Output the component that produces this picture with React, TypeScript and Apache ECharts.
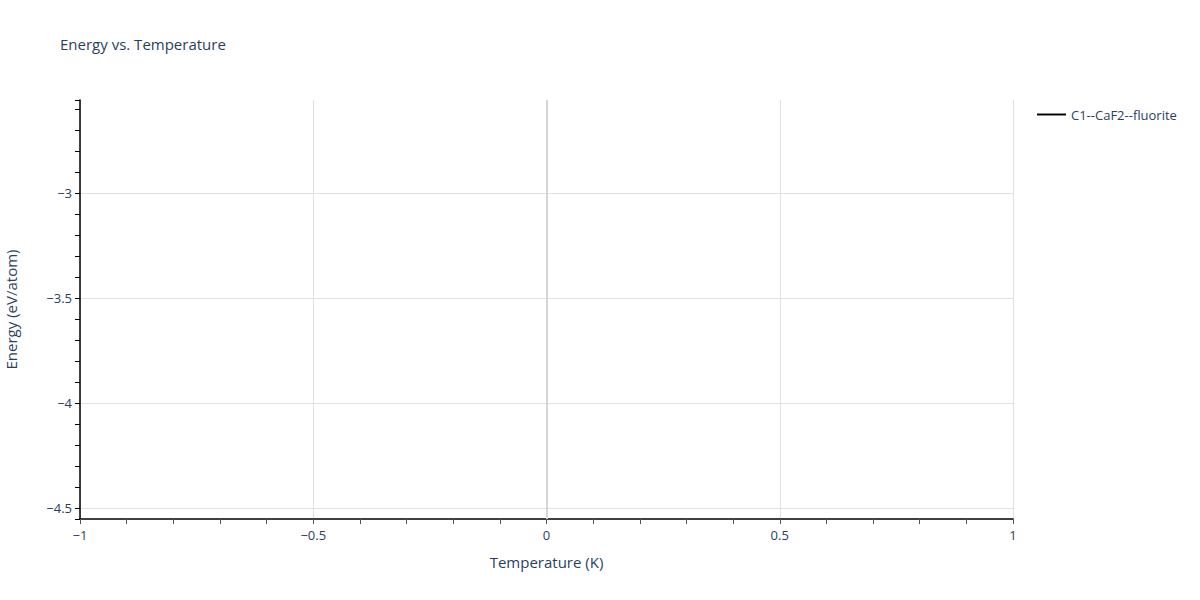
import { useEffect, useRef } from "react";
import * as echarts from "echarts";

const seriesName = "C1--CaF2--fluorite";
// no points are drawn in the reference: the trace is empty
const temperatures: number[] = [];
const energies: number[] = [];
const xRange = [-1, 1];
const yRange = [-4.552, -2.557];
const zeroLines = [0];

const FONT = "'Open Sans', Verdana, Arial, sans-serif";
const TEXT = "#2a3f5f";
const GRID = "#e1e1e1";

const minusSign = (v: number) => String(v).replace("-", "\u2212");

export default function App() {
  const chartRef = useRef<HTMLDivElement | null>(null);

  useEffect(() => {
    if (!chartRef.current) return;
    const chart = echarts.init(chartRef.current, undefined, { renderer: "svg" });
    chart.setOption({
      animation: false,
      textStyle: { fontFamily: FONT },
      title: {
        text: "Energy vs. Temperature",
        left: 55,
        top: 31,
        textStyle: { fontSize: 15, fontWeight: "normal", color: TEXT, fontFamily: FONT }
      },
      legend: {
        left: 1037,
        top: 108,
        orient: "vertical",
        icon: "path://M0,0 L30,0 L30,2 L0,2 Z",
        itemWidth: 29,
        itemHeight: 2,
        itemGap: 6,
        padding: 0,
        textStyle: { fontSize: 13, color: TEXT, fontFamily: FONT },
        data: [seriesName]
      },
      grid: {
        left: 80,
        right: 187,
        top: 100,
        bottom: 81,
        containLabel: false,
        outerBoundsMode: "none"
      },
      xAxis: {
        type: "value",
        min: xRange[0],
        max: xRange[1],
        interval: 0.5,
        name: "Temperature (K)",
        nameLocation: "middle",
        nameGap: 35,
        nameTextStyle: { fontSize: 15, color: TEXT, fontFamily: FONT },
        axisLine: { show: true, onZero: false, lineStyle: { color: "#000", width: 1.5 } },
        axisTick: { show: true, length: 5, lineStyle: { color: "#555" } },
        minorTick: { show: true, splitNumber: 5, length: 5, lineStyle: { color: "#555" } },
        axisLabel: { fontSize: 13, color: TEXT, margin: 9, formatter: minusSign },
        splitLine: { show: true, lineStyle: { color: GRID, width: 1 } }
      },
      yAxis: {
        type: "value",
        min: yRange[0],
        max: yRange[1],
        splitNumber: 4,
        name: "Energy (eV/atom)",
        nameLocation: "middle",
        nameGap: 62,
        nameTextStyle: { fontSize: 15, color: TEXT, fontFamily: FONT },
        axisLine: { show: true, onZero: false, lineStyle: { color: "#000", width: 1.5 } },
        axisTick: { show: true, length: 5, lineStyle: { color: "#000" } },
        minorTick: { show: true, splitNumber: 5, length: 5, lineStyle: { color: "#000" } },
        axisLabel: {
          fontSize: 13,
          color: TEXT,
          margin: 8,
          showMinLabel: false,
          showMaxLabel: false,
          formatter: minusSign
        },
        splitLine: {
          show: true,
          showMinLine: false,
          showMaxLine: false,
          lineStyle: { color: GRID, width: 1 }
        }
      },
      series: [
        {
          name: seriesName,
          type: "line",
          color: "#000",
          lineStyle: { color: "#000", width: 2 },
          showSymbol: false,
          data: temperatures.map((t, i) => [t, energies[i]]),
          markLine: {
            silent: true,
            symbol: "none",
            label: { show: false },
            lineStyle: { color: "#d6d6d6", width: 2, type: "solid" },
            data: zeroLines.map((x) => ({ xAxis: x }))
          }
        }
      ]
    });
    const onResize = () => chart.resize();
    window.addEventListener("resize", onResize);
    return () => {
      window.removeEventListener("resize", onResize);
      chart.dispose();
    };
  }, []);

  return (
    <div
      ref={chartRef}
      style={{ position: "fixed", left: 0, top: 0, width: 1200, height: 600, background: "#fff" }}
    />
  );
}
